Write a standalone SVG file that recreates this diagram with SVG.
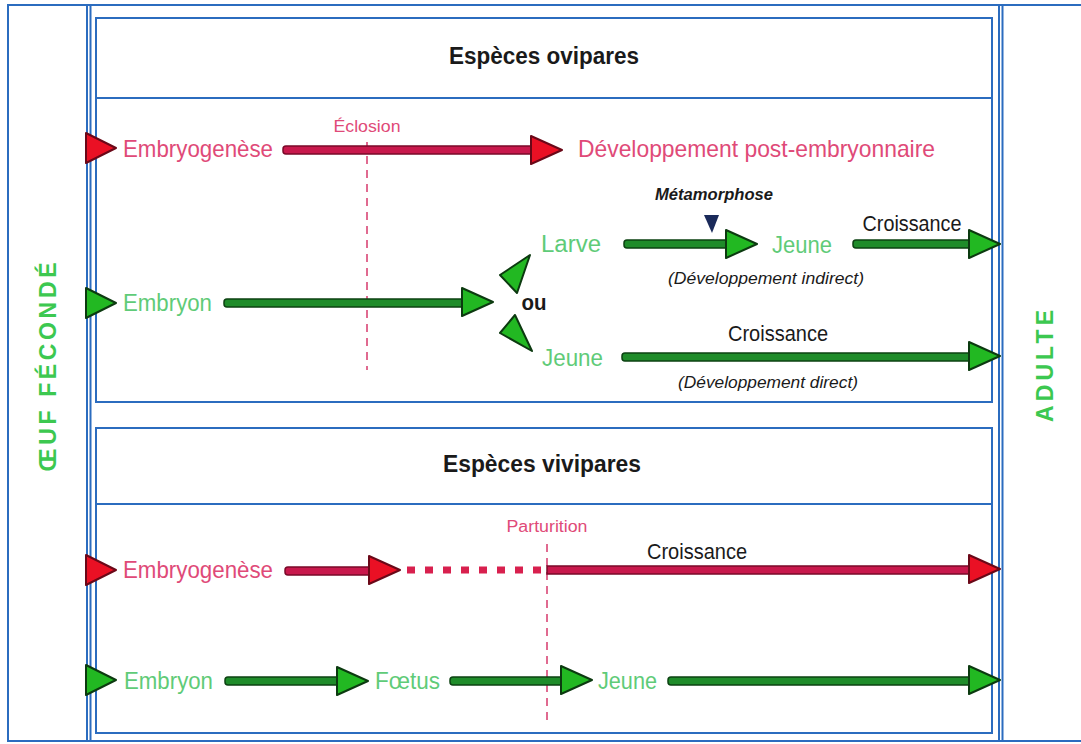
<svg xmlns="http://www.w3.org/2000/svg" xmlns:xlink="http://www.w3.org/1999/xlink" width="1081" height="744" viewBox="0 0 1081 744">
<style>
text{font-family:"Liberation Sans",Arial,sans-serif;}
.frame{fill:none;stroke:#2b6cbf;stroke-width:2;}
.frameT{fill:none;stroke:#2b6cbf;stroke-width:3;}
.title{font-size:23px;font-weight:bold;fill:#1a1a1a;text-anchor:middle;}
.pink{font-size:24px;fill:#df4a78;}
.pinkS{font-size:16px;fill:#df4a78;text-anchor:middle;}
.green{font-size:23px;fill:#5fcb78;}
.side{font-size:23px;font-weight:bold;fill:#3cc850;text-anchor:middle;}
.blk{font-size:22px;fill:#1a1a1a;text-anchor:middle;}
.ital{font-size:17px;font-style:italic;fill:#1a1a1a;text-anchor:middle;}
.shaftG{fill:#1f8c2a;stroke:#0c4212;stroke-width:1.5;}
.headG{fill:#22b822;stroke:#0c3a10;stroke-width:2;stroke-linejoin:round;}
.shaftR{fill:#c8184c;stroke:#7a0828;stroke-width:1.5;}
.headR{fill:#ea1024;stroke:#6a0818;stroke-width:2;stroke-linejoin:round;}
.dash{stroke:#e06a90;stroke-width:2;stroke-dasharray:8 6;fill:none;}
.dot{stroke:#d8204e;stroke-width:7;stroke-dasharray:8 10;fill:none;}
</style>
<defs>
<polygon id="hg" class="headG" points="-31,-14 0,0 -31,14"/>
<polygon id="hr" class="headR" points="-31,-14 0,0 -31,14"/>
<polygon id="sg" class="headG" points="0,-15 30,0 0,15"/>
<polygon id="sr" class="headR" points="0,-15 30,0 0,15"/>
</defs>
<rect x="0" y="0" width="1081" height="744" fill="#ffffff"/>
<g id="frames">
<rect class="frame" x="8" y="5" width="1090" height="736"/>
<line class="frame" x1="87" y1="5" x2="87" y2="741"/>
<line class="frame" x1="90.5" y1="5" x2="90.5" y2="741"/>
<line class="frame" x1="999" y1="5" x2="999" y2="741"/>
<line class="frame" x1="1002.5" y1="5" x2="1002.5" y2="741"/>
</g>
<g id="panel-ovipares">
<rect class="frame" x="96" y="18" width="896" height="384"/>
<line class="frame" x1="96" y1="98" x2="992" y2="98"/>
<text class="title" x="544" y="64" textLength="190" lengthAdjust="spacingAndGlyphs">Espèces ovipares</text>
</g>
<g id="panel-vivipares">
<rect class="frame" x="96" y="428" width="896" height="305"/>
<line class="frame" x1="96" y1="504" x2="992" y2="504"/>
<text class="title" x="542" y="472" textLength="198" lengthAdjust="spacingAndGlyphs">Espèces vivipares</text>
</g>
<g id="oeuf">
<text class="side" transform="translate(56,367) rotate(-90)" textLength="209" lengthAdjust="spacing">ŒUF FÉCONDÉ</text>
</g>
<g id="adulte">
<text class="side" transform="translate(1053,366) rotate(-90)" textLength="112" lengthAdjust="spacing">ADULTE</text>
</g>
<g id="connectors">
<line class="dash" x1="367" y1="142" x2="367" y2="370"/>
<use xlink:href="#sr" x="86" y="148"/>
<rect class="shaftR" x="283" y="146" width="250" height="8" rx="3"/>
<use xlink:href="#hr" x="562" y="150"/>
<use xlink:href="#sg" x="86" y="303"/>
<rect class="shaftG" x="224" y="299" width="240" height="8" rx="3"/>
<use xlink:href="#hg" x="493" y="302"/>
<polygon class="headG" points="500,275 530,255 517,293"/>
<polygon class="headG" points="515,315 500,333 532,351"/>
<rect class="shaftG" x="624" y="240" width="105" height="8" rx="3"/>
<use xlink:href="#hg" x="757" y="244"/>
<polygon fill="#1a2a5a" points="704,215 719,215 712,233"/>
<rect class="shaftG" x="853" y="240" width="120" height="8" rx="3"/>
<use xlink:href="#hg" x="1000" y="244"/>
<rect class="shaftG" x="622" y="353" width="350" height="8" rx="3"/>
<use xlink:href="#hg" x="1000" y="356"/>
<line class="dash" x1="547" y1="544" x2="547" y2="720"/>
<use xlink:href="#sr" x="86" y="570"/>
<rect class="shaftR" x="285" y="567" width="88" height="8" rx="3"/>
<use xlink:href="#hr" x="400" y="570"/>
<line class="dot" x1="407" y1="570" x2="547" y2="570"/>
<rect class="shaftR" x="547" y="566" width="427" height="8"/>
<use xlink:href="#hr" x="1000" y="569"/>
<use xlink:href="#sg" x="86" y="680"/>
<rect class="shaftG" x="225" y="677" width="116" height="8" rx="3"/>
<use xlink:href="#hg" x="368" y="681"/>
<rect class="shaftG" x="450" y="677" width="114" height="8" rx="3"/>
<use xlink:href="#hg" x="592" y="680"/>
<rect class="shaftG" x="668" y="677" width="306" height="8" rx="3"/>
<use xlink:href="#hg" x="1000" y="680"/>
</g>
<g id="n-eclosion"><text class="pinkS" x="367" y="132" textLength="67" lengthAdjust="spacingAndGlyphs">Éclosion</text></g>
<g id="n-embryogenese1"><text class="pink" x="123" y="157" textLength="150" lengthAdjust="spacingAndGlyphs">Embryogenèse</text></g>
<g id="n-devpost"><text class="pink" x="578" y="157" textLength="357" lengthAdjust="spacingAndGlyphs">Développement post-embryonnaire</text></g>
<g id="n-metamorphose"><text class="ital" x="714" y="200" font-weight="bold" textLength="118" lengthAdjust="spacingAndGlyphs">Métamorphose</text></g>
<g id="n-larve"><text class="green" x="541" y="252" textLength="60" lengthAdjust="spacingAndGlyphs">Larve</text></g>
<g id="n-jeune1"><text class="green" x="772" y="253" textLength="60" lengthAdjust="spacingAndGlyphs">Jeune</text></g>
<g id="n-croissance1"><text class="blk" x="912" y="231" textLength="99" lengthAdjust="spacingAndGlyphs">Croissance</text></g>
<g id="n-devindirect"><text class="ital" x="766" y="284" textLength="196" lengthAdjust="spacingAndGlyphs">(Développement indirect)</text></g>
<g id="n-embryon1"><text class="green" x="123" y="311" textLength="89" lengthAdjust="spacingAndGlyphs">Embryon</text></g>
<g id="n-ou"><text class="blk" x="534" y="310" font-weight="bold" textLength="25" lengthAdjust="spacingAndGlyphs">ou</text></g>
<g id="n-jeune2"><text class="green" x="542" y="366" textLength="61" lengthAdjust="spacingAndGlyphs">Jeune</text></g>
<g id="n-croissance2"><text class="blk" x="778" y="341" textLength="100" lengthAdjust="spacingAndGlyphs">Croissance</text></g>
<g id="n-devdirect"><text class="ital" x="768" y="388" textLength="180" lengthAdjust="spacingAndGlyphs">(Développement direct)</text></g>
<g id="n-parturition"><text class="pinkS" x="547" y="532" textLength="81" lengthAdjust="spacingAndGlyphs">Parturition</text></g>
<g id="n-embryogenese2"><text class="pink" x="123" y="578" textLength="150" lengthAdjust="spacingAndGlyphs">Embryogenèse</text></g>
<g id="n-croissance3"><text class="blk" x="697" y="559" textLength="100" lengthAdjust="spacingAndGlyphs">Croissance</text></g>
<g id="n-embryon2"><text class="green" x="124" y="689" textLength="89" lengthAdjust="spacingAndGlyphs">Embryon</text></g>
<g id="n-foetus"><text class="green" x="375" y="689" textLength="65" lengthAdjust="spacingAndGlyphs">Fœtus</text></g>
<g id="n-jeune3"><text class="green" x="598" y="689" textLength="59" lengthAdjust="spacingAndGlyphs">Jeune</text></g>
</svg>
